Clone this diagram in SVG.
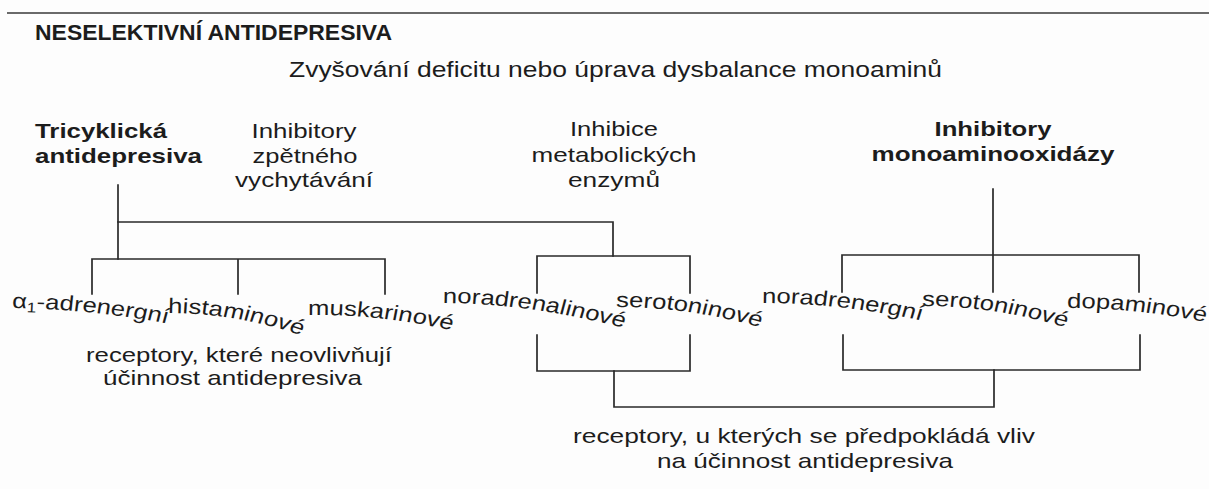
<svg xmlns="http://www.w3.org/2000/svg" xmlns:xlink="http://www.w3.org/1999/xlink" width="1209" height="489" viewBox="0 0 1209 489">
  <style>
    .t { font-family: "Liberation Sans", Arial, sans-serif; font-size: 21px; fill: #1c1c1c; }
    .b { font-weight: bold; }
    .m { text-anchor: middle; }
    .big { font-size: 22px; }
    .ln { fill: none; stroke: #2a2a2a; stroke-width: 1.7; stroke-linecap: square; }
  </style>
  <defs>
    <!-- baselines of the receptor labels, in the 1.22x horizontally stretched label space -->
    <path id="p-a1" d="M9.8,308 Q73.8,309 139.3,324 L160,329"/>
    <path id="p-his" d="M137.7,313 Q192.6,313 245.9,335 L265,343"/>
    <path id="p-mus" d="M252.5,315 Q311.5,314 373,331 L392,337"/>
    <path id="p-nad" d="M363.1,303 Q434.4,303 518,330 L537,337"/>
    <path id="p-ser1" d="M504.9,307 Q565.6,307 625.4,328 L644,335"/>
    <path id="p-nae" d="M624.6,303 Q688.5,303 757.4,321 L776,326"/>
    <path id="p-ser2" d="M755.7,306 Q815.6,306 875.4,328 L894,335"/>
    <path id="p-dop" d="M874.6,308 Q934.4,308 991,323 L1010,328"/>
  </defs>

  <rect width="1209" height="489" fill="#fdfdfd"/>
  <line x1="7" y1="13" x2="1209" y2="13" stroke="#6a6a6a" stroke-width="2"/>

  <g id="title">
    <text class="t b big" x="35" y="40" textLength="357" lengthAdjust="spacingAndGlyphs">NESELEKTIVNÍ ANTIDEPRESIVA</text>
  </g>
  <g id="subtitle">
    <text class="t big" x="289" y="77" textLength="653" lengthAdjust="spacingAndGlyphs">Zvyšování deficitu nebo úprava dysbalance monoaminů</text>
  </g>

  <g id="tricyclic">
    <text class="t b" x="35" y="138" textLength="132" lengthAdjust="spacingAndGlyphs">Tricyklická</text>
    <text class="t b" x="35" y="163" textLength="167" lengthAdjust="spacingAndGlyphs">antidepresiva</text>
  </g>
  <g id="reuptake">
    <text class="t m" x="304" y="138" textLength="105" lengthAdjust="spacingAndGlyphs">Inhibitory</text>
    <text class="t m" x="305" y="163" textLength="105" lengthAdjust="spacingAndGlyphs">zpětného</text>
    <text class="t m" x="304" y="187" textLength="138" lengthAdjust="spacingAndGlyphs">vychytávání</text>
  </g>
  <g id="enzymes">
    <text class="t m" x="614" y="136" textLength="88" lengthAdjust="spacingAndGlyphs">Inhibice</text>
    <text class="t m" x="614" y="162" textLength="165" lengthAdjust="spacingAndGlyphs">metabolických</text>
    <text class="t m" x="614" y="187" textLength="92" lengthAdjust="spacingAndGlyphs">enzymů</text>
  </g>
  <g id="mao">
    <text class="t b m" x="993" y="136" textLength="117" lengthAdjust="spacingAndGlyphs">Inhibitory</text>
    <text class="t b m" x="993" y="161" textLength="243" lengthAdjust="spacingAndGlyphs">monoaminooxidázy</text>
  </g>

  <g id="receptor-labels" transform="scale(1.22,1)">
    <text class="t"><textPath xlink:href="#p-a1">α<tspan font-size="14" dy="4">1</tspan><tspan dy="-4">-adrenergní</tspan></textPath></text>
    <text class="t"><textPath xlink:href="#p-his">histaminové</textPath></text>
    <text class="t"><textPath xlink:href="#p-mus">muskarinové</textPath></text>
    <text class="t"><textPath xlink:href="#p-nad">noradrenalinové</textPath></text>
    <text class="t"><textPath xlink:href="#p-ser1">serotoninové</textPath></text>
    <text class="t"><textPath xlink:href="#p-nae">noradrenergní</textPath></text>
    <text class="t"><textPath xlink:href="#p-ser2">serotoninové</textPath></text>
    <text class="t"><textPath xlink:href="#p-dop">dopaminové</textPath></text>
  </g>

  <g id="no-effect">
    <text class="t" x="86" y="362" textLength="306" lengthAdjust="spacingAndGlyphs">receptory, které neovlivňují</text>
    <text class="t" x="103" y="385" textLength="259" lengthAdjust="spacingAndGlyphs">účinnost antidepresiva</text>
  </g>
  <g id="effect">
    <text class="t" x="573" y="443" textLength="462" lengthAdjust="spacingAndGlyphs">receptory, u kterých se předpokládá vliv</text>
    <text class="t" x="657" y="468" textLength="296" lengthAdjust="spacingAndGlyphs">na účinnost antidepresiva</text>
  </g>

  <g id="connectors">
    <path class="ln" d="M118,185 V259"/>
    <path class="ln" d="M118,222 H613 V256"/>
    <path class="ln" d="M92,294 V259 H385 V294 M238,259 V294"/>
    <path class="ln" d="M537,293 V256 H690 V293"/>
    <path class="ln" d="M993,189 V292 M842,292 V255 H1139 V292"/>
    <path class="ln" d="M537,335 V371 H690 V335"/>
    <path class="ln" d="M843,335 V370 H1140 V335"/>
    <path class="ln" d="M614,371 V407 H994 V370"/>
  </g>
</svg>
